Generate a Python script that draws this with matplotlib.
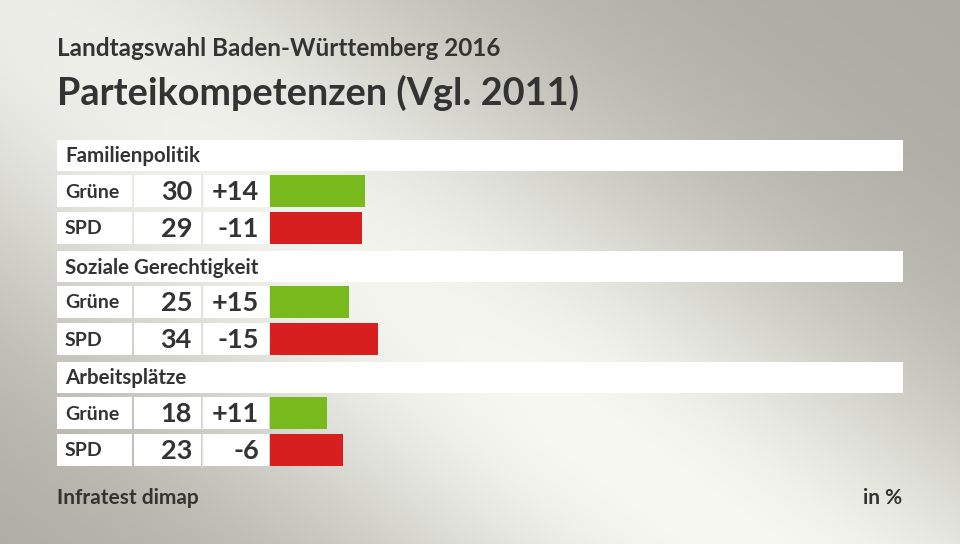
import numpy as np
import matplotlib
matplotlib.use("Agg")
import matplotlib.pyplot as plt
from matplotlib.patches import Rectangle

# ---- data ----
subtitle = "Landtagswahl Baden-Württemberg 2016"
title = "Parteikompetenzen (Vgl. 2011)"
groups = ["Familienpolitik", "Soziale Gerechtigkeit", "Arbeitsplätze"]
parties = ["Grüne", "SPD"]
values = [[30, 29], [25, 34], [18, 23]]
changes = ["+14", "-11", "+15", "-15", "+11", "-6"]
party_colors = {"Grüne": "#78b91d", "SPD": "#d81f20"}
source = "Infratest dimap"
unit = "in %"

W, H = 960, 544
fig = plt.figure(figsize=(W / 100, H / 100), dpi=100)
ax = fig.add_axes([0, 0, 1, 1])
ax.set_xlim(0, W)
ax.set_ylim(H, 0)
ax.axis("off")

# background gradient
yy, xx = np.mgrid[0:H, 0:W]
u = np.array([0.804, 0.594])
d = xx * u[1] - yy * u[0]
along = xx * u[0] + yy * u[1]
t = np.exp(-(d / 250.0) ** 2) * (0.85 + 0.15 * np.clip(along / 700.0, 0, 1))
dark = np.array([0.675, 0.675, 0.645])
light = np.array([0.97, 0.973, 0.948])
img = dark[None, None, :] + (light - dark)[None, None, :] * t[..., None]
ax.imshow(img, extent=(0, W, H, 0), aspect="auto", zorder=0)

txt = "#333333"
font = "Lato"
ax.text(57, 49, subtitle, fontsize=17.5, fontweight="bold", color=txt, family=font,
        va="center", ha="left")
ax.text(57, 93, title, fontsize=27.3, fontweight="bold", color=txt, family=font,
        va="center", ha="left")

x0, x1 = 57, 903
px_per_unit = 3.17
bar_x0 = 270
group_top0 = 140
group_step = 111
header_h = 31
row_h = 32
row_offsets = [35, 72]

bax = fig.add_axes([bar_x0 / W, 0, (x1 - bar_x0) / W, 1])
bax.set_xlim(0, (x1 - bar_x0) / px_per_unit)
bax.set_ylim(H, 0)
bax.axis("off")
bax.patch.set_alpha(0)

k = 0
for gi, g in enumerate(groups):
    gt = group_top0 + gi * group_step
    ax.add_patch(Rectangle((x0, gt), x1 - x0, header_h, facecolor="white",
                           edgecolor="none", zorder=2))
    ax.text(65, gt + header_h / 2 + 1, g, fontsize=14.8, fontweight="bold",
            color=txt, family=font, va="center", ha="left", zorder=3)
    for pi, p in enumerate(parties):
        rt = gt + row_offsets[pi]
        cy = rt + row_h / 2
        ax.add_patch(Rectangle((57, rt), 75, row_h, facecolor="white",
                               edgecolor="none", zorder=2))
        ax.add_patch(Rectangle((134, rt), 67, row_h, facecolor="white",
                               edgecolor="none", zorder=2))
        ax.add_patch(Rectangle((202, rt), 67, row_h, facecolor="white",
                               edgecolor="none", zorder=2))
        ax.plot([201.5, 201.5], [rt, rt + row_h], color="#e4e4e0", lw=1, zorder=2.5)
        ax.text(65, cy + 1, p, fontsize=14, fontweight="bold", color=txt,
                family=font, va="center", ha="left", zorder=3)
        ax.text(192, cy + 1, str(values[gi][pi]), fontsize=19.5, fontweight="bold",
                color=txt, family=font, va="center", ha="right", zorder=3)
        ax.text(259, cy + 1, changes[k], fontsize=19.5, fontweight="bold",
                color=txt, family=font, va="center", ha="right", zorder=3)
        bax.barh(cy, values[gi][pi], height=row_h, left=0,
                 color=party_colors[p], edgecolor="none", zorder=2)
        k += 1

ax.text(57, 498, source, fontsize=15, fontweight="bold", color=txt, family=font,
        va="center", ha="left")
ax.text(902, 498, unit, fontsize=15, fontweight="bold", color=txt, family=font,
        va="center", ha="right")

fig.savefig("out.png", dpi=100)
